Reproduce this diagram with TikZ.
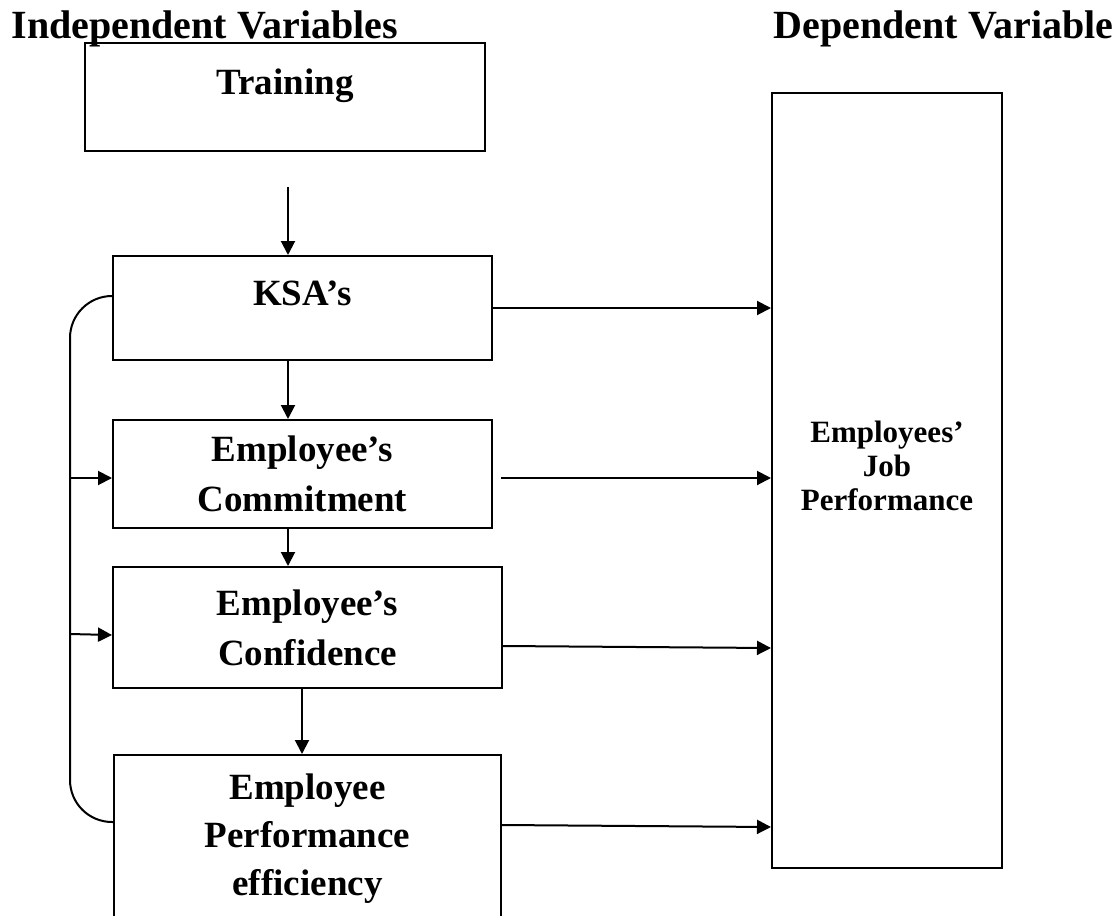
\documentclass[tikz,border=0pt]{standalone}
\usepackage{fontspec}
\setmainfont{Liberation Serif}
\usetikzlibrary{arrows.meta}

\begin{document}
\begin{tikzpicture}
  [x=1pt, y=-1pt,
   box/.style={draw, line width=2pt, inner sep=0pt, align=center,
     font=\bfseries\fontsize{37}{50}\selectfont},
   head/.style={font=\bfseries\fontsize{40}{48}\selectfont},
   arr/.style={line width=2pt, -{Triangle[length=14pt,width=14pt]}}]
  \clip (0,0) rectangle (1120,916);
  \node[head, anchor=base west] (indep) at (8,38) {Independent Variables};
  \node[head, anchor=base east] (dep) at (1117,38) {Dependent Variable};

  \node[box, minimum width=400pt, minimum height=108pt,
        text height=26pt, text depth=32pt] (training) at (285,97) {Training};
  \node[box, minimum width=379pt, minimum height=104pt,
        text height=26pt, text depth=32pt] (ksa) at (302.5,308) {KSA’s};
  \node[box, minimum width=379pt, minimum height=108pt]
        (commit) at (302.5,474) {Employee’s\\Commitment};
  \node[box, minimum width=389pt, minimum height=121pt]
        (conf) at (307.5,627.5) {Employee’s\\Confidence};
  \node[box, minimum width=387pt, minimum height=168pt,
        font=\bfseries\fontsize{37}{48}\selectfont]
        (eff) at (307.5,839) {Employee\\Performance\\efficiency};

  \node[draw, line width=2pt, inner sep=0pt, minimum width=230pt,
        minimum height=775pt] (jobperf) at (887,480.5) {};
  \node[align=center, font=\bfseries\fontsize{31}{34}\selectfont]
        (jobtext) at (887,466) {Employees’\\Job\\Performance};

  \coordinate (ax) at (288,0);
  \coordinate (bx) at (302,0);
  \coordinate (t1) at (288,187);
  \draw[arr] (t1) -- (t1 |- ksa.north);
  \draw[arr] (ksa.south -| ax) -- (commit.north -| ax);
  \draw[arr] (commit.south -| ax) -- (conf.north -| ax);
  \draw[arr] (conf.south -| bx) -- (eff.north -| bx);

  \coordinate (c1) at (501,478);
  \draw[arr] (ksa.east) -- (ksa.east -| jobperf.west);
  \draw[arr] (c1) -- (c1 -| jobperf.west);
  \draw[arr] ([yshift=-18.5pt]conf.east) -- (jobperf.west |- 0,648);
  \draw[arr] ([yshift=14pt]eff.east) -- (jobperf.west |- 0,827);

  \draw[line width=2pt, rounded corners=42pt]
    (ksa.west |- 0,296) -- (70,296) -- (70,822) -- (eff.west |- 0,822);
  \coordinate (l1) at (70,478);
  \coordinate (l2) at (70,634);
  \draw[arr] (l1) -- (l1 -| commit.west);
  \draw[arr] (l2) -- (conf.west |- 0,635);
\end{tikzpicture}
\end{document}
